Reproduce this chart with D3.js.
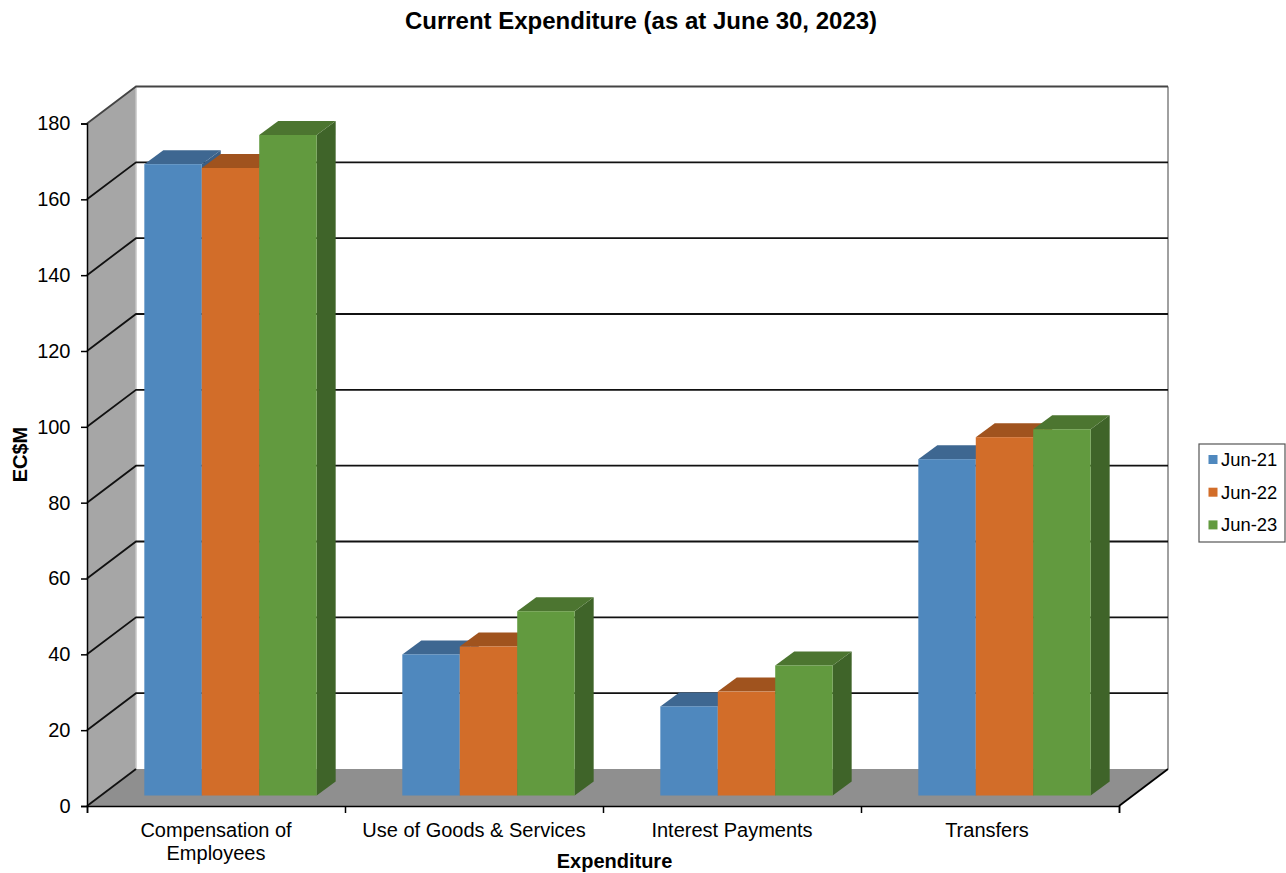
<!DOCTYPE html>
<html>
<head>
<meta charset="utf-8">
<title>Current Expenditure</title>
<script src="https://cdn.jsdelivr.net/npm/d3@7"></script>
<style>
  html, body { margin: 0; padding: 0; background: #fff; }
  svg { display: block; }
  text { font-family: "Liberation Sans", Arial, sans-serif; fill: #000; }
</style>
</head>
<body>
<div id="chart"></div>
<script>
const categories = ["Compensation of Employees", "Use of Goods & Services", "Interest Payments", "Transfers"];
const seriesNames = ["Jun-21", "Jun-22", "Jun-23"];
const jun21 = [166.5, 37.2, 23.5, 88.7];
const jun22 = [165.5, 39.3, 27.4, 94.5];
const jun23 = [174.2, 48.6, 34.3, 96.6];
const yTicks = [0, 20, 40, 60, 80, 100, 120, 140, 160, 180];

const seriesValues = [jun21, jun22, jun23];
const colours = [
    { front: "#4f88be", top: "#3e6791", side: "#3a5f86" },
    { front: "#d26d29", top: "#a0531e", side: "#93491a" },
    { front: "#629a3f", top: "#4c7530", side: "#3f6429" }
];

const width = 1286, height = 873;
const front = { left: 87, right: 1119, top: 123.5, bottom: 806 };
const depth = { x: 49, y: -37 };      // front of the floor to the back wall
const barPlane = { x: 14.5, y: -10.5 }; // front of the floor to the front of the bars
const barDepth = { x: 19, y: -14 };

const svg = d3.select("#chart").append("svg")
    .attr("width", width)
    .attr("height", height);

const y = d3.scaleLinear().domain([0, 180]).range([front.bottom, front.top]);
const x = d3.scaleBand().domain(categories).range([front.left, front.right]).paddingInner(0.332).paddingOuter(0.166);
const xSeries = d3.scaleBand().domain(seriesNames).range([0, x.bandwidth()]);

const poly = (pts) => pts.map((p) => p.join(",")).join(" ");

// walls
const walls = svg.append("g");
walls.append("polygon")
    .attr("points", poly([
        [front.left + depth.x, y(180) + depth.y],
        [front.right + depth.x, y(180) + depth.y],
        [front.right + depth.x, y(0) + depth.y],
        [front.left + depth.x, y(0) + depth.y]
    ]))
    .attr("fill", "#fff");
walls.append("polygon")
    .attr("points", poly([
        [front.left, y(180)],
        [front.left + depth.x, y(180) + depth.y],
        [front.left + depth.x, y(0) + depth.y],
        [front.left, y(0)]
    ]))
    .attr("fill", "#a6a6a6");
walls.append("polygon")
    .attr("points", poly([
        [front.left, y(0)],
        [front.left + depth.x, y(0) + depth.y],
        [front.right + depth.x, y(0) + depth.y],
        [front.right, y(0)]
    ]))
    .attr("fill", "#8f8f8f");

// back wall edges
walls.append("line")
    .attr("x1", front.left + depth.x).attr("x2", front.left + depth.x)
    .attr("y1", y(180) + depth.y).attr("y2", y(0) + depth.y)
    .attr("stroke", "#c4c4c4").attr("stroke-width", 1.5);
walls.append("line")
    .attr("x1", front.right + depth.x).attr("x2", front.right + depth.x)
    .attr("y1", y(180) + depth.y).attr("y2", y(0) + depth.y)
    .attr("stroke", "#a0a0a0").attr("stroke-width", 2);

// gridlines run along the side wall and then across the back wall
svg.append("g")
    .selectAll("polyline")
    .data(yTicks)
    .join("polyline")
    .attr("points", (d) => poly([
        [front.left, y(d)],
        [front.left + depth.x, y(d) + depth.y],
        ...(d === 0 ? [] : [[front.right + depth.x, y(d) + depth.y]])
    ]))
    .attr("fill", "none")
    .attr("stroke", (d) => d === 180 ? "#444" : "#111")
    .attr("stroke-width", 1.8);

// floor right edge
svg.append("line")
    .attr("x1", front.right).attr("y1", y(0))
    .attr("x2", front.right + depth.x).attr("y2", y(0) + depth.y)
    .attr("stroke", "#000").attr("stroke-width", 1.8);

// bars
const bars = [];
categories.forEach((c, i) => {
    seriesNames.forEach((s, j) => {
        bars.push({ category: c, series: s, value: seriesValues[j][i], colour: colours[j] });
    });
});

const barGroups = svg.append("g")
    .selectAll("g")
    .data(bars)
    .join("g")
    .attr("transform", `translate(${barPlane.x},${barPlane.y})`);

barGroups.append("polygon")
    .attr("points", (d) => {
        const l = x(d.category) + xSeries(d.series), r = l + xSeries.bandwidth();
        return poly([
            [r, y(d.value)],
            [r + barDepth.x, y(d.value) + barDepth.y],
            [r + barDepth.x, y(0) + barDepth.y],
            [r, y(0)]
        ]);
    })
    .attr("fill", (d) => d.colour.side);

barGroups.append("polygon")
    .attr("points", (d) => {
        const l = x(d.category) + xSeries(d.series), r = l + xSeries.bandwidth();
        return poly([
            [l, y(d.value)],
            [l + barDepth.x, y(d.value) + barDepth.y],
            [r + barDepth.x, y(d.value) + barDepth.y],
            [r, y(d.value)]
        ]);
    })
    .attr("fill", (d) => d.colour.top);

barGroups.append("rect")
    .attr("x", (d) => x(d.category) + xSeries(d.series))
    .attr("y", (d) => y(d.value))
    .attr("width", xSeries.bandwidth())
    .attr("height", (d) => y(0) - y(d.value))
    .attr("fill", (d) => d.colour.front);

// y axis
const yAxis = svg.append("g")
    .attr("transform", `translate(${front.left},0)`)
    .call(d3.axisLeft(y).tickValues(yTicks).tickSize(6).tickPadding(10.5));
yAxis.selectAll("path, line").attr("stroke", "#000").attr("stroke-width", 1.5);
yAxis.selectAll("text").attr("font-size", 20).attr("font-family", "Liberation Sans");

// x axis: ticks sit on the category boundaries, labels on the categories
const boundaries = d3.scaleLinear().domain([0, categories.length]).range([front.left, front.right]);
const xTicks = svg.append("g")
    .attr("transform", `translate(0,${front.bottom})`)
    .call(d3.axisBottom(boundaries).ticks(categories.length).tickSize(7).tickFormat(""));
xTicks.selectAll("path, line").attr("stroke", "#000").attr("stroke-width", 1.5);

const xLabels = svg.append("g")
    .attr("transform", `translate(0,${front.bottom})`)
    .call(d3.axisBottom(x).tickSize(0).tickPadding(0));
xLabels.select(".domain").remove();
xLabels.selectAll("text").each(function (d) {
    const t = d3.select(this).text(null).attr("font-size", 20).attr("font-family", "Liberation Sans").attr("y", 0).attr("dy", null);
    const lines = d === categories[0] ? ["Compensation of", "Employees"] : [d];
    lines.forEach((line, i) => {
        t.append("tspan")
            .attr("x", d === "Transfers" ? -3 : 0)
            .attr("y", 30.5 + i * 23.5)
            .text(line);
    });
});

// titles
svg.append("text")
    .attr("x", 641).attr("y", 29)
    .attr("text-anchor", "middle")
    .attr("font-size", 24).attr("font-weight", "bold")
    .text("Current Expenditure (as at June 30, 2023)");

svg.append("text")
    .attr("x", 614.5).attr("y", 868)
    .attr("text-anchor", "middle")
    .attr("font-size", 20).attr("font-weight", "bold")
    .text("Expenditure");

svg.append("text")
    .attr("transform", "translate(27,454.5) rotate(-90)")
    .attr("text-anchor", "middle")
    .attr("font-size", 20).attr("font-weight", "bold")
    .text("EC$M");

// legend
const legend = svg.append("g").attr("transform", "translate(1199,444)");
legend.append("rect")
    .attr("x", 0).attr("y", 0).attr("width", 86).attr("height", 98)
    .attr("fill", "#fff").attr("stroke", "#555").attr("stroke-width", 1.2);
const legendItems = legend.selectAll("g")
    .data(seriesNames)
    .join("g")
    .attr("transform", (d, i) => `translate(0,${15.5 + i * 32.7})`);
legendItems.append("rect")
    .attr("x", 9.5).attr("y", -4.5).attr("width", 9).attr("height", 9)
    .attr("fill", (d, i) => colours[i].front);
legendItems.append("text")
    .attr("x", 22).attr("y", 6.5)
    .attr("font-size", 18.4)
    .text((d) => d);
</script>
</body>
</html>
